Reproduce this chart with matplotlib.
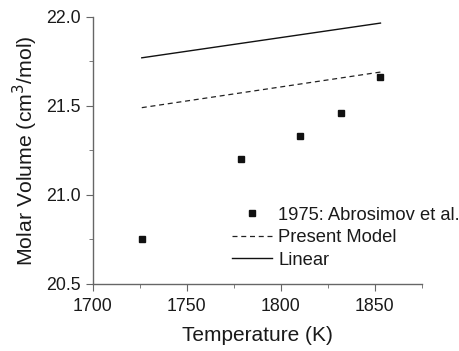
import numpy as np
import matplotlib.pyplot as plt
from matplotlib.ticker import MultipleLocator

plt.rcParams['font.family'] = ['Liberation Sans', 'DejaVu Sans']

# 1975: Abrosimov et al. data
exp_T = [1726, 1779, 1810, 1832, 1853]
exp_V = [20.75, 21.20, 21.33, 21.46, 21.665]

# model lines
model_T = [1726, 1853]
model_V = [21.49, 21.69]
linear_T = [1726, 1853]
linear_V = [21.77, 21.965]

fig = plt.figure(figsize=(4.6, 3.51), dpi=100)
ax = fig.add_axes([0.202, 0.191, 0.715, 0.761])

ax.plot(exp_T, exp_V, 's', color='#111111', ms=4.5, label='1975: Abrosimov et al.')
ax.plot(model_T, model_V, '--', color='#222222', lw=0.9, dashes=(4, 3), label='Present Model')
ax.plot(linear_T, linear_V, '-', color='#111111', lw=1.0, label='Linear')

ax.set_xlim(1700, 1875)
ax.set_ylim(20.5, 22.0)
ax.xaxis.set_major_locator(MultipleLocator(50))
ax.xaxis.set_minor_locator(MultipleLocator(25))
ax.yaxis.set_major_locator(MultipleLocator(0.5))
ax.yaxis.set_minor_locator(MultipleLocator(0.25))
ax.yaxis.set_major_formatter(plt.FormatStrFormatter('%.1f'))

for s in ['top', 'right']:
    ax.spines[s].set_visible(False)
for s in ['left', 'bottom']:
    ax.spines[s].set_color('#666666')
    ax.spines[s].set_linewidth(1.0)
ax.tick_params(which='both', direction='out', color='#666666', labelsize=12.8, labelcolor='#1a1a1a')
ax.tick_params(which='major', length=5)
ax.tick_params(which='minor', length=3)
ax.tick_params(axis='x', pad=5)

ax.set_xlabel('Temperature (K)', fontsize=15, color='#1a1a1a', labelpad=8)
ax.set_ylabel('Molar Volume (cm$^3$/mol)', fontsize=15.3, color='#1a1a1a', labelpad=5)

leg = ax.legend(loc='lower right', frameon=False, fontsize=13.2, handlelength=2.2,
                handletextpad=0.33, labelspacing=0.3, borderaxespad=0, borderpad=0,
                bbox_to_anchor=(1.115, 0.057))
for t in leg.get_texts():
    t.set_color('#1a1a1a')

fig.savefig('out.png', dpi=100)
